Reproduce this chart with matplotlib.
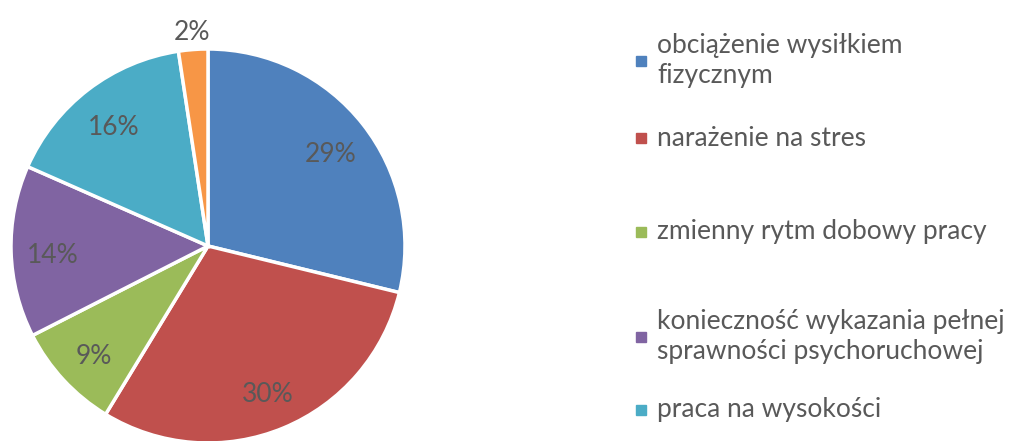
import numpy as np
import matplotlib
matplotlib.use("Agg")
import matplotlib.pyplot as plt
from matplotlib.patches import Rectangle

# data (share of answers, in %)
categories = ["obciążenie wysiłkiem\nfizycznym",
              "narażenie na stres",
              "zmienny rytm dobowy pracy",
              "konieczność wykazania pełnej\nsprawności psychoruchowej",
              "praca na wysokości",
              "inne"]
values = [28.8, 29.9, 8.8, 14.1, 16.0, 2.4]
colors = ["#4F81BD", "#C0504D", "#9BBB59", "#8064A2", "#4BACC6", "#F79646"]

plt.rcParams['font.family'] = ['Lato', 'DejaVu Sans']
txt_color = "#595959"

W, H = 1019, 441
fig = plt.figure(figsize=(W / 100, H / 100), dpi=100)

# pie placed by pixel centre / radius
cx, cy, r = 208, 246, 197
ax = fig.add_axes([(cx - r) / W, (H - cy - r) / H, 2 * r / W, 2 * r / H])
wedges, texts, autotexts = ax.pie(values, colors=colors, startangle=90, counterclock=False,
                                  autopct='%1.0f%%', pctdistance=0.79,
                                  wedgeprops=dict(edgecolor='white', linewidth=2.5),
                                  textprops=dict(color=txt_color, fontsize=19))
ax.set_xlim(-1, 1)
ax.set_ylim(-1, 1)
ax.set_aspect('auto')
ax.axis('off')

# small slice: label outside (like Excel best fit)
w = wedges[-1]
mid = np.deg2rad((w.theta1 + w.theta2) / 2)
autotexts[-1].set_position((1.11 * np.cos(mid), 1.11 * np.sin(mid)))
for t in autotexts:
    x, y = t.get_position()
    t.set_position((x, y - 0.025))

# legend drawn by hand, only the entries visible in the crop
leg_y = [61, 138, 232, 337, 410]
for i, y in enumerate(leg_y):
    fig.patches.append(Rectangle((636 / W, (H - y - 5) / H), 10 / W, 10 / H,
                                 transform=fig.transFigure, color=colors[i]))
    fig.text(657 / W, (H - y) / H, categories[i], color=txt_color, fontsize=19,
             va='center', ha='left', linespacing=1.25)

fig.savefig("out.png", dpi=100)
